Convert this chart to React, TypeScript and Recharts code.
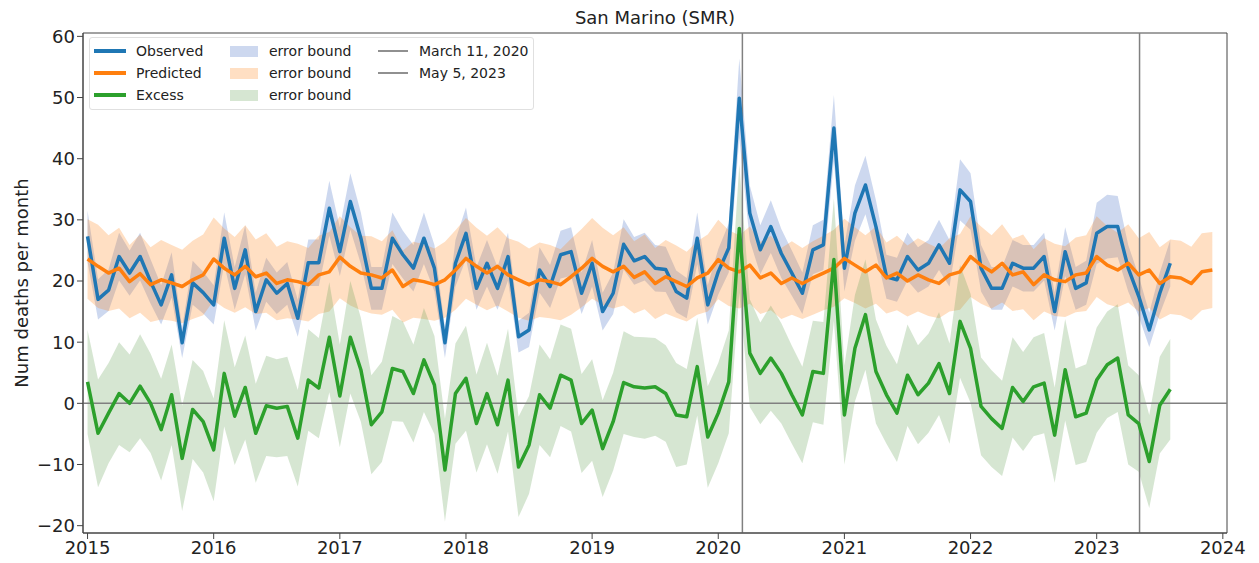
import React from "react";
import { ComposedChart, Line, Area, XAxis, YAxis, ReferenceLine, ReferenceArea } from "recharts";

// monthly series starting Jan 2015
const startYear = 2015;

const observed = [
  27.3, 17, 18.5, 24, 21.3, 24, 19.9, 16.1, 21, 9.9, 19.7, 18.1,
  16.1, 27, 18.8, 25.1, 15, 20.2, 18, 19.6, 13.9, 23, 23, 31.9,
  24.8, 33, 27, 18.8, 18.8, 27, 24.3, 22.1, 27, 22.1, 9.9, 22.9,
  27.8, 18.8, 22.9, 18.8, 24, 10.9, 12, 21.8, 19.1, 24.3, 24.8, 18,
  22.9, 15, 18, 26, 23.3, 24, 22.1, 21.9, 18.3, 17.2, 27, 16.1,
  21.5, 25.4, 49.9, 31.1, 25.1, 28.9, 24.5, 21.3, 18, 25.1, 25.9, 45,
  22.1, 31.1, 35.7, 28.9, 20.7, 20.2, 24, 21.8, 22.9, 25.9, 22.9, 34.9,
  33, 22.1, 18.8, 18.8, 22.9, 22.1, 22.1, 24, 15, 24.8, 18.8, 19.7,
  27.8, 28.9, 28.9, 22.1, 17.5, 12, 18, 22.9,
];

const predicted = [
  23.6, 22.4, 21.3, 22.1, 19.9, 21.2, 19.4, 20.2, 19.7, 19.1, 20.2, 21,
  23.6, 22.1, 21, 22.4, 20.7, 21.3, 19.6, 20.2, 19.9, 19.4, 21, 21.5,
  23.9, 22.4, 21.3, 21, 20.5, 21.8, 19.1, 20.2, 19.9, 19.4, 20.2, 21.8,
  23.7, 22.4, 21.3, 22.4, 21, 20.2, 19.4, 20.2, 19.9, 19.4, 20.7, 22.1,
  23.7, 22.4, 21.5, 22.4, 20.6, 21.5, 19.6, 20.7, 19.9, 19.1, 20.5, 21.3,
  23.5, 22.1, 21.5, 22.6, 20.5, 21.3, 19.6, 20.5, 19.6, 20.5, 21.3, 22.1,
  23.7, 22.6, 21.5, 22.6, 20.5, 21.3, 20, 21, 20.2, 19.6, 21, 21.5,
  24, 22.6, 21.5, 22.9, 21, 21.5, 19.4, 21, 20.2, 19.9, 21, 21.3,
  24, 22.6, 21.8, 22.9, 21, 21.8, 19.6, 20.7, 20.5, 19.6, 21.5, 21.8,
];

const excess = [
  3.5, -4.9, -1.6, 1.6, 0, 2.8, 0, -4.3, 1.4, -9, -1, -3,
  -7.6, 4.9, -2.1, 2.6, -4.9, -0.4, -0.8, -0.5, -5.7, 3.8, 2.5, 10.8,
  1.2, 10.8, 5.5, -3.5, -1.4, 5.7, 5.2, 1.6, 7.1, 3, -10.9, 1.6,
  4.1, -3.3, 1.6, -3.5, 3.8, -10.4, -6.8, 1.4, -0.8, 4.6, 3.8, -3.3,
  -1.1, -7.4, -3, 3.4, 2.7, 2.5, 2.7, 1.6, -1.9, -2.2, 6, -5.5,
  -1.6, 3.5, 28.6, 8.2, 4.9, 7.4, 4.9, 1.4, -1.9, 5.2, 4.9, 23.5,
  -1.9, 9, 14.5, 5.2, 1.4, -1.6, 4.6, 1.4, 3.3, 6.5, 1.6, 13.4,
  9, -0.5, -2.5, -4.1, 2.6, 0.3, 2.7, 3.3, -5.2, 5.5, -2.2, -1.6,
  3.8, 6.3, 7.4, -1.9, -3.3, -9.5, -0.3, 2.3,
];

// half widths of the shaded error bounds
const observedErr = [
  4.2, 3.3, 3.4, 3.9, 3.7, 3.9, 3.6, 3.2, 3.7, 2.5, 3.6, 3.4,
  3.2, 4.2, 3.5, 4, 3.1, 3.6, 3.4, 3.5, 3, 3.8, 3.8, 4.5,
  4, 4.6, 4.2, 3.5, 3.5, 4.2, 3.9, 3.8, 4.2, 3.8, 2.5, 3.8,
  4.2, 3.5, 3.8, 3.5, 3.9, 2.6, 2.8, 3.7, 3.5, 3.9, 4, 3.4,
  3.8, 3.1, 3.4, 4.1, 3.9, 3.9, 3.8, 3.7, 3.4, 3.3, 4.2, 3.2,
  3.7, 4, 6.5, 4.5, 4, 4.3, 4, 3.7, 3.4, 4, 4.1, 5.4,
  3.8, 4.5, 4.8, 4.3, 3.6, 3.6, 3.9, 3.7, 3.8, 4.1, 3.8, 5,
  4.6, 3.8, 3.5, 3.5, 3.8, 3.8, 3.8, 3.9, 3.1, 4, 3.5, 3.6,
  5, 5.2, 5, 3.8, 3.3, 2.8, 3.4, 3.8,
];

const predictedErr = [
  6.5, 6.8, 6.2, 6.6, 6.0, 6.4, 6.1, 6.5, 6.2, 6.0, 6.4, 6.6,
  6.8, 6.5, 6.2, 6.7, 6.1, 6.5, 6.0, 6.3, 6.2, 6.0, 6.4, 6.5,
  6.7, 6.4, 6.1, 6.3, 6.0, 6.5, 5.9, 6.2, 6.1, 5.9, 6.2, 6.5,
  6.6, 6.3, 6.1, 6.4, 6.0, 6.2, 5.9, 6.1, 6.0, 5.8, 6.2, 6.4,
  6.6, 6.3, 6.0, 6.4, 5.9, 6.1, 5.8, 6.0, 5.9, 5.7, 6.0, 6.3,
  6.5, 6.2, 6.0, 6.3, 5.9, 6.1, 5.8, 6.0, 5.8, 6.0, 6.1, 6.3,
  6.5, 6.2, 6.0, 6.3, 5.8, 6.1, 5.8, 6.0, 5.9, 5.7, 6.0, 6.2,
  6.6, 6.3, 6.0, 6.4, 5.9, 6.1, 5.8, 6.0, 5.9, 5.8, 6.1, 6.2,
  6.6, 6.4, 6.1, 6.4, 6.0, 6.2, 5.9, 6.1, 6.1, 6.0, 6.3, 6.2,
];

const excessErr = [
  8.5, 8.8, 8.2, 8.4, 8.0, 8.5, 8.1, 8.3, 8.2, 8.6, 8.1, 8.3,
  8.4, 8.7, 8.0, 8.5, 8.1, 8.2, 8.0, 8.1, 7.9, 8.3, 8.2, 9.0,
  8.4, 9.2, 8.5, 8.1, 8.2, 8.6, 8.2, 8.0, 8.5, 8.0, 8.4, 8.2,
  8.6, 8.0, 8.3, 8.0, 8.4, 8.2, 8.0, 8.2, 8.0, 8.3, 8.4, 8.1,
  8.3, 7.9, 8.0, 8.4, 8.2, 8.3, 8.0, 7.9, 8.5, 7.8, 8.0, 8.3,
  8.2, 8.4, 10.5, 8.8, 8.3, 8.6, 8.2, 8.0, 7.9, 8.3, 8.4, 10.0,
  8.1, 8.7, 9.0, 8.5, 8.0, 8.0, 8.3, 8.1, 8.1, 8.4, 8.2, 9.2,
  8.9, 8.0, 7.9, 7.8, 8.2, 8.1, 8.1, 8.2, 7.8, 8.3, 7.9, 8.0,
  8.6, 8.7, 8.8, 8.1, 7.9, 7.6, 7.9, 8.2,
];

const yearTicks = [2015, 2016, 2017, 2018, 2019, 2020, 2021, 2022, 2023, 2024];
const valueTicks = [-20, -10, 0, 10, 20, 30, 40, 50, 60];
const marchEleven2020 = 2020 + 70 / 366;
const mayFive2023 = 2023 + 124 / 365;

const xDomain = [2014.964, 2024.033];
const yDomain = [-21.2, 60.55];

const rows = predicted.map((p, i) => {
  const has = i < observed.length;
  return {
    t: startYear + i / 12,
    obs: has ? observed[i] : null,
    pred: p,
    exc: has ? excess[i] : null,
    obsBand: has ? [observed[i] - observedErr[i], observed[i] + observedErr[i]] : null,
    predBand: [p - predictedErr[i], p + predictedErr[i]],
    excBand: has ? [excess[i] - excessErr[i], excess[i] + excessErr[i]] : null,
  };
});

const C0 = "#1f77b4";
const C1 = "#ff7f0e";
const C2 = "#2ca02c";
const font = "'DejaVu Sans', sans-serif";
const axisColor = "#444";

const fmtY = (v: number) => (v < 0 ? "\u2212" + Math.abs(v) : String(v));

function LegendBox() {
  const rowY = [13, 35, 57];
  const text = { position: "absolute" as const, fontSize: 14, lineHeight: "16px", color: "#222", whiteSpace: "nowrap" as const };
  const lines = [
    { c: C0, label: "Observed" },
    { c: C1, label: "Predicted" },
    { c: C2, label: "Excess" },
  ];
  const bands = ["rgba(74,114,196,0.28)", "rgba(255,127,14,0.25)", "rgba(90,154,74,0.25)"];
  const refs = ["March 11, 2020", "May 5, 2023"];
  return (
    <div
      style={{
        position: "absolute",
        left: 81,
        top: 29,
        width: 443,
        height: 71,
        background: "rgba(255,255,255,0.8)",
        border: "1px solid #e0e0e0",
        borderRadius: 3,
      }}
    >
      {lines.map((l, i) => (
        <React.Fragment key={l.label}>
          <div style={{ position: "absolute", left: 4, top: rowY[i] - 2, width: 32, height: 4, background: l.c }} />
          <div style={{ ...text, left: 46, top: rowY[i] - 8 }}>{l.label}</div>
        </React.Fragment>
      ))}
      {bands.map((b, i) => (
        <React.Fragment key={i}>
          <div style={{ position: "absolute", left: 140, top: rowY[i] - 5, width: 28, height: 11, background: b }} />
          <div style={{ ...text, left: 179, top: rowY[i] - 8 }}>error bound</div>
        </React.Fragment>
      ))}
      {refs.map((r, i) => (
        <React.Fragment key={r}>
          <div style={{ position: "absolute", left: 288, top: rowY[i] - 1, width: 30, height: 1.5, background: "#909090" }} />
          <div style={{ ...text, left: 329, top: rowY[i] - 8 }}>{r}</div>
        </React.Fragment>
      ))}
    </div>
  );
}

export default function App() {
  return (
    <div style={{ position: "relative", width: 1251, height: 555, fontFamily: font }}>
      <div
        style={{
          position: "absolute",
          left: 75,
          width: 1144,
          top: -1,
          textAlign: "center",
          fontSize: 18,
          lineHeight: "22px",
          color: "#222",
        }}
      >
        San Marino (SMR)
      </div>
      <div
        style={{
          position: "absolute",
          left: 14 - 150,
          top: 275 - 11,
          width: 300,
          height: 22,
          lineHeight: "22px",
          textAlign: "center",
          fontSize: 18,
          color: "#222",
          transform: "rotate(-90deg)",
        }}
      >
        Num deaths per month
      </div>
      <ComposedChart width={1251} height={555} data={rows} margin={{ top: 25, right: 32, left: 0, bottom: 0 }}>
        <XAxis
          dataKey="t"
          type="number"
          domain={xDomain}
          ticks={yearTicks}
          allowDataOverflow
          height={30}
          tick={{ fill: "#222", fontSize: 18, fontFamily: font }}
          tickLine={{ stroke: axisColor }}
          axisLine={{ stroke: axisColor }}
          tickFormatter={(v: number) => String(Math.round(v))}
        />
        <YAxis
          type="number"
          domain={yDomain}
          ticks={valueTicks}
          allowDataOverflow
          width={75}
          tick={{ fill: "#222", fontSize: 18, fontFamily: font }}
          tickLine={{ stroke: axisColor }}
          axisLine={{ stroke: axisColor }}
          tickFormatter={fmtY}
        />
        <Area dataKey="obsBand" stroke="none" fill="#4a72c4" fillOpacity={0.28} isAnimationActive={false} connectNulls={false} />
        <Area dataKey="predBand" stroke="none" fill={C1} fillOpacity={0.25} isAnimationActive={false} />
        <Area dataKey="excBand" stroke="none" fill="#5a9a4a" fillOpacity={0.25} isAnimationActive={false} connectNulls={false} />
        <ReferenceLine y={0} stroke="#808080" strokeWidth={1.5} />
        <ReferenceLine x={marchEleven2020} stroke="#808080" strokeWidth={1.5} />
        <ReferenceLine x={mayFive2023} stroke="#808080" strokeWidth={1.5} />
        <Line dataKey="obs" stroke={C0} strokeWidth={3.5} dot={false} strokeLinejoin="round" isAnimationActive={false} />
        <Line dataKey="pred" stroke={C1} strokeWidth={3.5} dot={false} strokeLinejoin="round" isAnimationActive={false} />
        <Line dataKey="exc" stroke={C2} strokeWidth={3.5} dot={false} strokeLinejoin="round" isAnimationActive={false} />
        <ReferenceArea
          x1={xDomain[0]}
          x2={xDomain[1]}
          y1={yDomain[0]}
          y2={yDomain[1]}
          fill="none"
          stroke={axisColor}
          strokeWidth={1}
        />
      </ComposedChart>
      <LegendBox />
    </div>
  );
}
